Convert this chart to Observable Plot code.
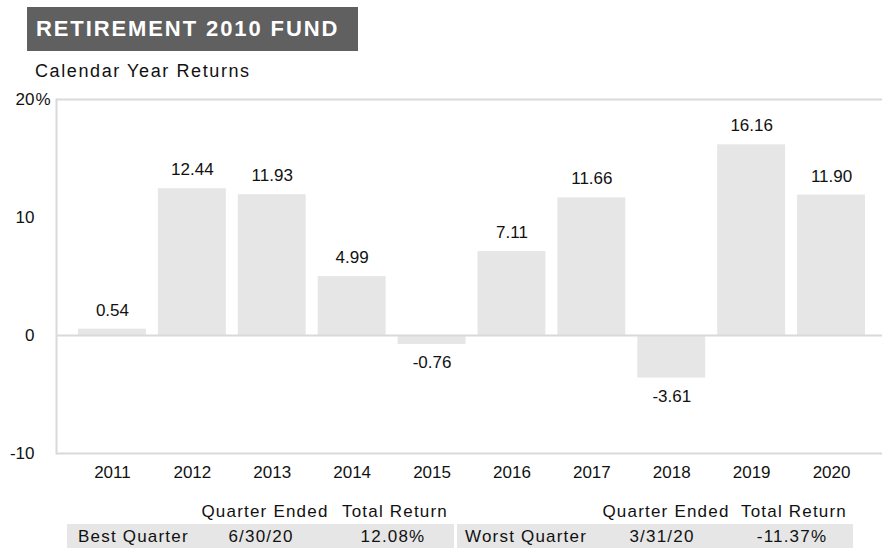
<!DOCTYPE html>
<html>
<head>
<meta charset="utf-8">
<script src="https://cdn.jsdelivr.net/npm/d3@7"></script>
<script src="https://cdn.jsdelivr.net/npm/@observablehq/plot@0.6"></script>
<style>
  html, body { margin: 0; padding: 0; background: #fff; }
  #wrap { position: relative; width: 882px; height: 548px; overflow: hidden;
          font-family: "Liberation Sans", Arial, Helvetica, sans-serif; color: #111; }
  #title { position: absolute; left: 27px; top: 7px; width: 331px; height: 44px;
           background: #606060; color: #fff; font-weight: bold; font-size: 22px;
           letter-spacing: 1.9px; line-height: 44px; padding-left: 9px; box-sizing: border-box; white-space: nowrap; }
  #subtitle { position: absolute; left: 35px; top: 59px; font-size: 18px; letter-spacing: 1.6px; line-height: 24px; white-space: nowrap; }
  #chart { position: absolute; left: 0; top: 86px; }
  .cell { position: absolute; font-size: 17px; line-height: 24px; white-space: nowrap; letter-spacing: 1.2px; }
  .band { position: absolute; top: 524px; height: 24px; background: #e6e6e6; }
  .c { transform: translateX(-50%); }
</style>
</head>
<body>
<div id="wrap">
  <div id="title"></div>
  <div id="subtitle"></div>
  <div id="chart"></div>
  <div id="table"></div>
</div>
<script>
const titleText = "RETIREMENT 2010 FUND";
const subtitleText = "Calendar Year Returns";
const years = ["2011","2012","2013","2014","2015","2016","2017","2018","2019","2020"];
const returns = [0.54, 12.44, 11.93, 4.99, -0.76, 7.11, 11.66, -3.61, 16.16, 11.90];
const yTicks = [-10, 0, 10, 20];
const tableHeaders = ["Quarter Ended", "Total Return"];
const bestQuarter = ["Best Quarter", "6/30/20", "12.08%"];
const worstQuarter = ["Worst Quarter", "3/31/20", "-11.37%"];

document.getElementById("title").textContent = titleText;
document.getElementById("subtitle").textContent = subtitleText;

const data = years.map((y, i) => ({year: y, value: returns[i]}));
const barColor = "#e6e6e6";
const lineColor = "#d9d9d9";

const chart = Plot.plot({
  width: 882,
  height: 404,
  marginTop: 13,
  marginBottom: 37,
  marginLeft: 56,
  marginRight: 0,
  style: {fontFamily: "'Liberation Sans', Arial, sans-serif", fontSize: "17px", color: "#111", background: "transparent"},
  x: {domain: years, padding: 0.15, insetLeft: 10, insetRight: 5, round: false},
  y: {domain: [-10, 20]},
  marks: [
    Plot.barY(data, {x: "year", y: "value", fill: barColor}),
    Plot.ruleY([0], {stroke: lineColor, strokeWidth: 2}),
    Plot.ruleY([20, -10], {stroke: lineColor, strokeWidth: 2}),
    Plot.frame({anchor: "left", stroke: lineColor, strokeWidth: 2}),
    Plot.text(data.filter(d => d.value >= 0), {x: "year", y: "value", text: d => d.value.toFixed(2), dy: -19, fontSize: 17, fill: "#111"}),
    Plot.text(data.filter(d => d.value < 0), {x: "year", y: "value", text: d => d.value.toFixed(2), dy: 18, fontSize: 17, fill: "#111"}),
    Plot.axisX({tickSize: 0, tickPadding: 12, label: null, fontSize: 17}),
    Plot.axisY(yTicks, {tickSize: 0, tickPadding: 22, label: null, tickFormat: d => String(d), fontSize: 17}),
    Plot.text(["%"], {frameAnchor: "left", y: [20], dx: -21, textAnchor: "start", fontSize: 17, fill: "#111"})
  ]
});
document.getElementById("chart").appendChild(chart);

// quarter table
const table = document.getElementById("table");
function addCell(text, left, top, center) {
  const d = document.createElement("div");
  d.className = "cell" + (center ? " c" : "");
  d.style.left = left + "px";
  d.style.top = top + "px";
  d.textContent = text;
  table.appendChild(d);
}
function addBand(left, width) {
  const b = document.createElement("div");
  b.className = "band";
  b.style.left = left + "px";
  b.style.width = width + "px";
  table.appendChild(b);
}
addBand(67, 387);
addBand(457, 396);
const blocks = [
  {row: bestQuarter, labelX: 78, qeX: 265, trX: 395},
  {row: worstQuarter, labelX: 465, qeX: 666, trX: 794}
];
blocks.forEach(b => {
  addCell(tableHeaders[0], b.qeX, 500, true);
  addCell(tableHeaders[1], b.trX, 500, true);
  addCell(b.row[0], b.labelX, 525, false);
  addCell(b.row[1], b.qeX - 4, 525, true);
  addCell(b.row[2], b.trX - 2, 525, true);
});
</script>
</body>
</html>
